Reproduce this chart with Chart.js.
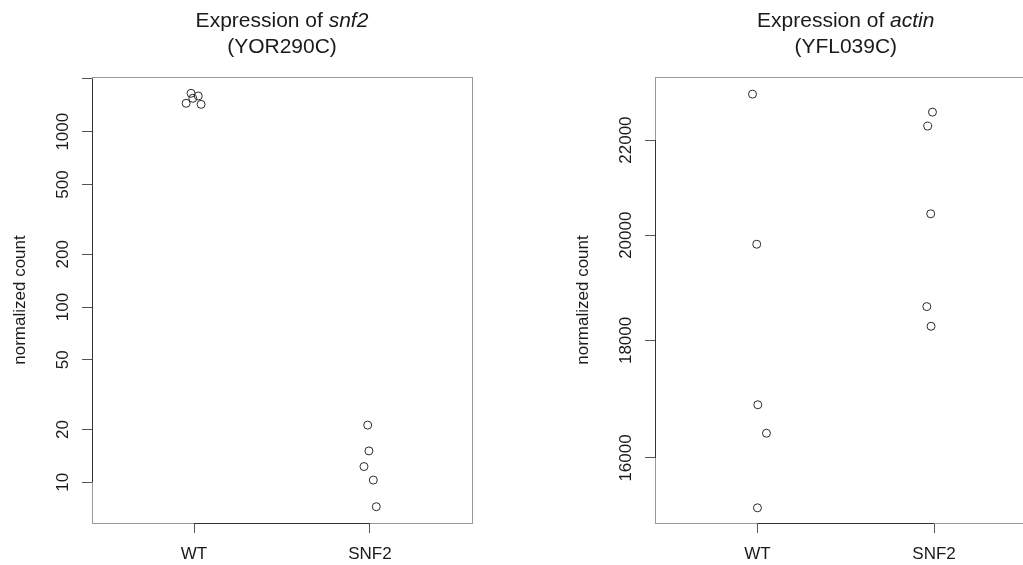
<!DOCTYPE html>
<html>
<head>
<meta charset="utf-8">
<script src="https://cdn.jsdelivr.net/npm/chart.js@4"></script>
<style>
  html, body { margin: 0; padding: 0; background: #fff; overflow: hidden; }
  #wrap { position: relative; width: 1023px; height: 565px; overflow: hidden; }
  #left { position: absolute; left: 0; top: 0; }
  #right { position: absolute; left: 512px; top: 0; }
</style>
</head>
<body>
<div id="wrap">
  <canvas id="left" width="512" height="565"></canvas>
  <canvas id="right" width="560" height="565"></canvas>
</div>
<script>
// groups on the x axis
const groups = ['WT', 'SNF2'];
const groupPos = [1, 2];

// snf2 (YOR290C) normalized counts, with the stripchart jitter
const snf2WT = [1656, 1452, 1550, 1599, 1432];
const snf2WTx = [0.983, 0.955, 0.993, 1.024, 1.040];
const snf2SNF2 = [21.2, 15.1, 12.3, 10.3, 7.26];
const snf2SNF2x = [1.987, 1.994, 1.966, 2.019, 2.036];
const snf2Ticks = [10, 20, 50, 100, 200, 500, 1000, 2000];
const snf2TickLabels = ['10', '20', '50', '100', '200', '500', '1000', ''];

// actin (YFL039C)
const actinWT = [23036, 19820, 16876, 16402, 15221];
const actinWTx = [0.972, 0.996, 1.002, 1.051, 1.000];
const actinSNF2 = [22625, 22310, 20434, 18620, 18256];
const actinSNF2x = [1.991, 1.964, 1.981, 1.959, 1.983];
const actinTicks = [16000, 18000, 20000, 22000];
const actinTickLabels = ['16000', '18000', '20000', '22000'];

const FONT = '"Liberation Sans", Arial, sans-serif';
const INK = '#1a1a1a';

// draws the R-like pieces: box, axis lines between end ticks, labels, titles
const rStyle = {
  id: 'rStyle',
  afterDraw(chart, args, o) {
    const ctx = chart.ctx, a = chart.chartArea;
    const xs = chart.scales.x, ys = chart.scales.y;
    ctx.save();
    ctx.lineWidth = 1;
    ctx.strokeStyle = '#9a9a9a';
    ctx.strokeRect(a.left + 0.5, a.top + 0.5, a.right - a.left, a.bottom - a.top);

    ctx.strokeStyle = '#333';
    ctx.beginPath();
    ctx.moveTo(a.left + 0.5, ys.getPixelForValue(o.yTicks[0]));
    ctx.lineTo(a.left + 0.5, ys.getPixelForValue(o.yTicks[o.yTicks.length - 1]));
    ctx.moveTo(xs.getPixelForValue(groupPos[0]), a.bottom + 0.5);
    ctx.lineTo(xs.getPixelForValue(groupPos[groupPos.length - 1]), a.bottom + 0.5);
    ctx.stroke();

    ctx.fillStyle = INK;
    ctx.font = '17px ' + FONT;
    ctx.textAlign = 'center';
    ctx.textBaseline = 'middle';
    o.yTicks.forEach((v, i) => {
      if (!o.yLabels[i]) return;
      ctx.save();
      ctx.translate(a.left - 29, ys.getPixelForValue(v));
      ctx.rotate(-Math.PI / 2);
      ctx.fillText(o.yLabels[i], 0, 0);
      ctx.restore();
    });
    groupPos.forEach((v, i) => {
      ctx.fillText(groups[i], xs.getPixelForValue(v), a.bottom + 31);
    });

    ctx.save();
    ctx.translate(o.yTitleX, (a.top + a.bottom) / 2);
    ctx.rotate(-Math.PI / 2);
    ctx.fillText('normalized count', 0, 0);
    ctx.restore();

    // two-line main title, gene name in italics
    const cx = (a.left + a.right) / 2;
    ctx.font = '21px ' + FONT;
    const w1 = ctx.measureText(o.title[0]).width;
    ctx.font = 'italic 21px ' + FONT;
    const w2 = ctx.measureText(o.title[1]).width;
    let x0 = cx - (w1 + w2) / 2;
    ctx.textAlign = 'left';
    ctx.font = '21px ' + FONT;
    ctx.fillText(o.title[0], x0, 21);
    ctx.font = 'italic 21px ' + FONT;
    ctx.fillText(o.title[1], x0 + w1, 21);
    ctx.font = '21px ' + FONT;
    ctx.textAlign = 'center';
    ctx.fillText(o.title[2], cx, 47);
    ctx.restore();
  }
};

function pts(xs, ys) {
  return ys.map((v, i) => ({ x: xs[i], y: v }));
}

function makeChart(id, cfg) {
  const tickGrid = { drawOnChartArea: false, drawTicks: true, tickLength: 10, color: '#555' };
  return new Chart(document.getElementById(id), {
    type: 'scatter',
    data: {
      datasets: cfg.series.map(s => ({
        data: s,
        pointStyle: 'circle',
        pointRadius: 4,
        borderWidth: 1,
        borderColor: '#2a2a2a',
        backgroundColor: 'rgba(0,0,0,0)'
      }))
    },
    options: {
      responsive: false,
      animation: false,
      devicePixelRatio: 1,
      layout: { padding: { top: 77, right: cfg.padRight, bottom: 0, left: 0 } },
      plugins: {
        legend: { display: false },
        tooltip: { enabled: false },
        rStyle: { title: cfg.title, yTicks: cfg.yTicks, yLabels: cfg.yLabels, yTitleX: cfg.yTitleX }
      },
      scales: {
        x: {
          type: 'linear', min: 0.42, max: 2.58,
          afterBuildTicks: s => { s.ticks = groupPos.map(v => ({ value: v })); },
          afterFit: s => { s.height = 42; },
          ticks: { display: false },
          grid: tickGrid,
          border: { display: false }
        },
        y: {
          type: 'logarithmic', min: cfg.yMin, max: cfg.yMax,
          afterBuildTicks: s => { s.ticks = cfg.yTicks.map(v => ({ value: v })); },
          afterFit: s => { s.width = cfg.axisW; },
          ticks: { display: false },
          grid: tickGrid,
          border: { display: false }
        }
      }
    },
    plugins: [rStyle]
  });
}

makeChart('left', {
  series: [pts(snf2WTx, snf2WT), pts(snf2SNF2x, snf2SNF2)],
  title: ['Expression of ', 'snf2', '(YOR290C)'],
  yTicks: snf2Ticks, yLabels: snf2TickLabels,
  yMin: 5.86, yMax: 2051,
  axisW: 92, padRight: 40, yTitleX: 20
});

makeChart('right', {
  series: [pts(actinWTx, actinWT), pts(actinSNF2x, actinSNF2)],
  title: ['Expression of ', 'actin', '(YFL039C)'],
  yTicks: actinTicks, yLabels: actinTickLabels,
  yMin: 14991, yMax: 23435,
  axisW: 143, padRight: 35.5, yTitleX: 71
});
</script>
</body>
</html>
